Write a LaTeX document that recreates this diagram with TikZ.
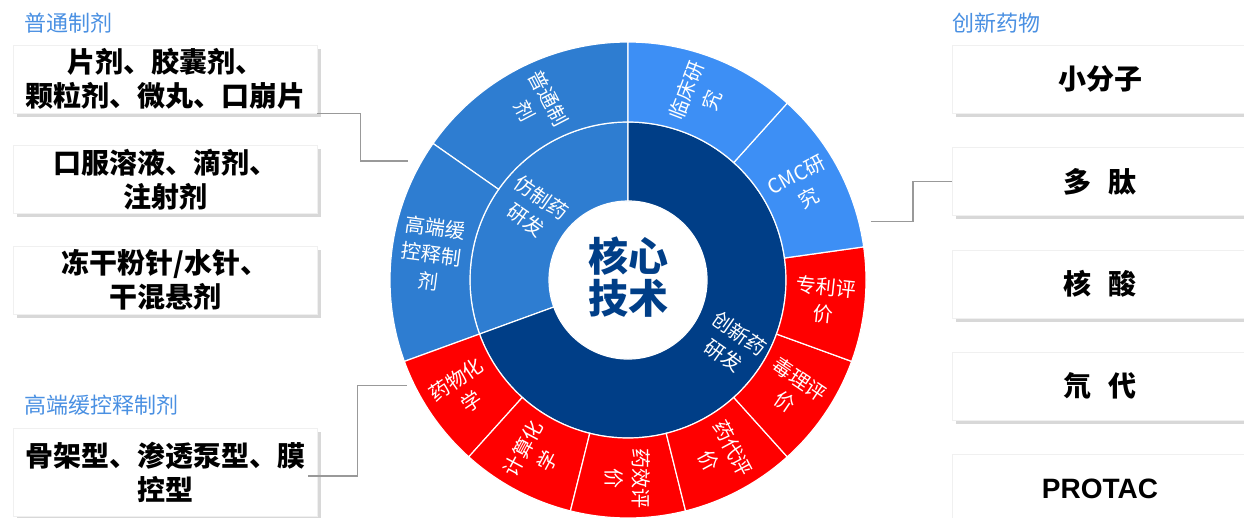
\documentclass[tikz,border=0pt]{standalone}
\usepackage{fontspec}
\setmainfont{Noto Sans CJK SC}
\newfontfamily\latinfont{Liberation Sans}
\usetikzlibrary{positioning,shadows,calc}
\definecolor{midblue}{HTML}{2E7DD1}
\definecolor{lightblue}{HTML}{3D8FF5}
\definecolor{navyblue}{HTML}{003E87}
\definecolor{hotred}{HTML}{FF0000}
\definecolor{headblue}{HTML}{4A90E2}
\tikzset{
  font={\fontsize{20pt}{27pt}\selectfont}}
% one part of a ring: style, start angle, end angle, inner radius, outer radius
\newcommand{\ringpart}[5]{%
  \path[#1] (#2:#4) arc[start angle=#2, end angle=#3, radius=#4]
    -- (#3:#5) arc[start angle=#3, end angle=#2, radius=#5] -- cycle;}

\begin{document}
\begin{tikzpicture}[x=1pt,y=1pt,
    block_left/.style ={rectangle, draw=gray!12, fill=white,
      minimum width=304pt, minimum height=68pt, align=center, inner sep=0pt,
      font=\fontsize{28pt}{34pt}\selectfont\bfseries,
      drop shadow={shadow xshift=4pt, shadow yshift=-4pt, fill=gray!60, opacity=0.5}},
    block_right/.style ={block_left, minimum width=296pt},
    head_label/.style ={anchor=west, inner sep=0pt, text=headblue,
      font=\fontsize{22pt}{26pt}\selectfont},
    ring_label/.style ={text=white, align=center, inner sep=0pt,
      font=\fontsize{20pt}{27pt}\selectfont},
    core_label/.style ={text=navyblue, align=center, inner sep=0pt,
      font=\fontsize{40pt}{42pt}\selectfont\bfseries},
    sector/.style ={fill=#1, draw=white, line width=1.2pt},
    conn/.style ={draw=gray!80, line width=1.3pt}]
    \useasboundingbox (0,0) rectangle (1244,517);

    % left column
    \node[head_label] (headCommon) at (24,494) {普通制剂};
    \node[block_left] (boxTablet) at (165,438) {片剂、胶囊剂、\\颗粒剂、微丸、口崩片};
    \node[block_left, below=32pt of boxTablet] (boxOral) {口服溶液、滴剂、\\注射剂};
    \node[block_left, below=32pt of boxOral] (boxPowder) {冻干粉针/水针、\\干混悬剂};
    \node[head_label] (headRelease) at (24,112) {高端缓控释制剂};
    \node[block_left, minimum height=88pt] (boxRelease) at (165,45) {骨架型、渗透泵型、膜\\控型};

    % right column
    \node[head_label] (headNew) at (952,494) {创新药物};
    \node[block_right] (boxSmall) at (1100,438) {小分子};
    \node[block_right, below=34pt of boxSmall] (boxPeptide) {多\hspace{0.6em}肽};
    \node[block_right, below=34pt of boxPeptide] (boxNucleic) {核\hspace{0.6em}酸};
    \node[block_right, below=34pt of boxNucleic] (boxDeuter) {氘\hspace{0.6em}代};
    \node[block_right, below=34pt of boxDeuter] (boxProtac) {\latinfont PROTAC};

    % sunburst
    \begin{scope}[shift={(628,237)}]
      % inner ring
      \ringpart{sector=midblue}{90}{200}{79}{158}
      \ringpart{sector=navyblue}{200}{450}{79}{158}
      \node[ring_label, rotate=-35] (innerGeneric) at (143:118) {仿制药\\研发};
      \node[ring_label, rotate=-35] (innerNew) at (328:122) {创新药\\研发};
      % outer ring
      \foreach \s/\e/\c/\rot/\txt in {
          90/145/midblue/-62.5/{普通制\\剂},
          145/200/midblue/-7.5/{高端缓\\控释制\\剂},
          200/228/hotred/34/{药物化\\学},
          228/256/hotred/62/{计算化\\学},
          256/284/hotred/-90/{药效评\\价},
          284/312/hotred/-62/{药代评\\价},
          312/340/hotred/-34/{毒理评\\价},
          340/368/hotred/-6/{专利评\\价},
          8/48/lightblue/28/{CMC研\\究},
          48/90/lightblue/69/{临床研\\究}} {
        \ringpart{sector=\c}{\s}{\e}{158}{238}
        \pgfmathsetmacro{\m}{(\s+\e)/2}
        \node[ring_label, rotate=\rot] at (\m:198) {\txt};
      }
      \node[core_label] (core) at (0,3) {核心\\技术};
      % connector ends near the ring
      \coordinate (tipCommon) at (151.6:250);
      \coordinate (tipRelease) at (205.5:245);
      \coordinate (tipNew) at (13.6:250);
    \end{scope}

    % connectors
    \draw[conn] (boxTablet.south east) -- ++(43,0) |- (tipCommon);
    \draw[conn] ([xshift=-9pt,yshift=-4pt]boxRelease.east) -- ++(49,0) |- (tipRelease);
    \draw[conn] (tipNew) -- ++(42,0) |- (boxPeptide.west);
  \end{tikzpicture}
\end{document}
